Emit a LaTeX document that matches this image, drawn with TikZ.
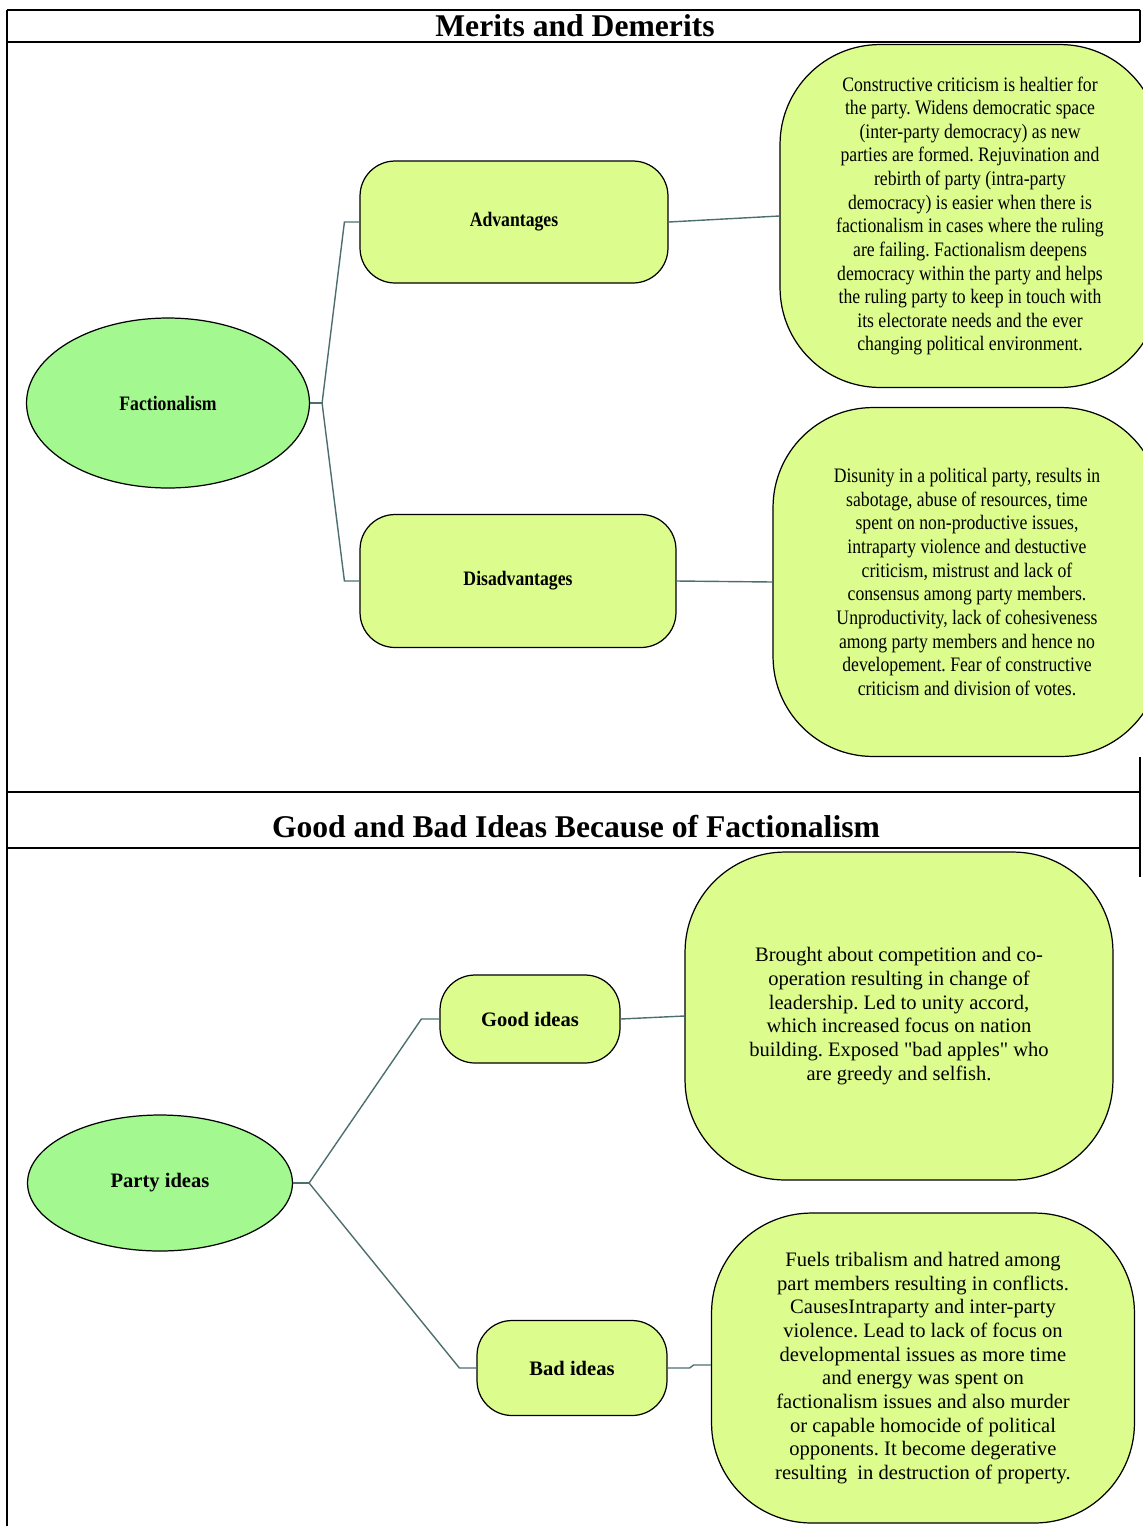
\documentclass[tikz,border=0pt]{standalone}
\usepackage{fontspec}
\setmainfont{Liberation Serif}
\newfontfamily\narrowserif[FakeStretch=0.86]{Liberation Serif}
\usepackage{xcolor}
\usetikzlibrary{shapes.geometric}

\definecolor{rootgreen}{HTML}{A3F88F}
\definecolor{leafyellow}{HTML}{DDFC8E}
\definecolor{linkgrey}{HTML}{4E6E6E}
\newcommand{\mapsize}{\fontsize{11.7}{13.45}\selectfont}
\frenchspacing

\begin{document}
\begin{tikzpicture}[x=0.02cm, y=-0.02cm,
    root/.style={draw, ellipse, fill=rootgreen, line width=0.7pt, inner sep=0pt, font=\mapsize\bfseries},
    branch/.style={draw, rounded corners=0.7cm, fill=leafyellow, line width=0.7pt, inner sep=0pt, font=\mapsize\bfseries},
    bubble/.style={draw, rounded corners=2cm, fill=leafyellow, line width=0.7pt, inner sep=0pt, font=\mapsize, align=center},
    narrow/.style={execute at begin node=\narrowserif},
    heading/.style={font=\fontsize{18}{21}\selectfont\bfseries},
    link/.style={draw=linkgrey, line width=0.8pt},
    frame/.style={line width=1.1pt}
]
    \useasboundingbox (0,0) rectangle (1143,1526);

    % Table frame
    \draw[frame] (7,10) -- (1140,10);
    \draw[frame] (7,42) -- (1140,42);
    \draw[frame] (7,792) -- (1140,792);
    \draw[frame] (7,848) -- (1140,848);
    \draw[frame] (7,10) -- (7,1526);
    \draw[frame] (1140,10) -- (1140,42);
    \draw[frame] (1140,757) -- (1140,877);

    % Headings
    \node[heading] (head1) at (575,26) {Merits and Demerits};
    \node[heading] (head2) at (576,827) {Good and Bad Ideas Because of Factionalism};

    % Factionalism map
    \node[root, narrow, minimum width=5.66cm, minimum height=3.4cm] (fac) at (168,403) {Factionalism};
    \node[branch, narrow, minimum width=6.16cm, minimum height=2.44cm] (adv) at (514,222) {Advantages};
    \node[branch, narrow, minimum width=6.32cm, minimum height=2.66cm] (dis) at (518,581) {Disadvantages};
    \node[bubble, narrow, minimum width=7.6cm, minimum height=6.86cm] (advnote) at (970,216) {Constructive criticism is healtier for\\the party. Widens democratic space\\(inter-party democracy) as new\\parties are formed. Rejuvination and\\rebirth of party (intra-party\\democracy) is easier when there is\\factionalism in cases where the ruling\\are failing. Factionalism deepens\\democracy within the party and helps\\the ruling party to keep in touch with\\its electorate needs and the ever\\changing political environment.};
    \node[bubble, narrow, minimum width=7.76cm, minimum height=6.98cm] (disnote) at (967,582) {Disunity in a political party, results in\\sabotage, abuse of resources, time\\spent on non-productive issues,\\intraparty violence and destuctive\\criticism, mistrust and lack of\\consensus among party members.\\Unproductivity, lack of cohesiveness\\among party members and hence no\\developement. Fear of constructive\\criticism and division of votes.};

    \draw[link] (fac.east) -- ++(12,0) coordinate (facfork);
    \draw[link] (facfork) -- ([xshift=-0.3cm]adv.west) -- (adv.west);
    \draw[link] (facfork) -- ([xshift=-0.3cm]dis.west) -- (dis.west);
    \draw[link] (adv.east) -- (advnote.west);
    \draw[link] (dis.east) -- (disnote.west);

    % Party ideas map
    \node[root, minimum width=5.3cm, minimum height=2.72cm] (party) at (160,1183) {Party ideas};
    \node[branch, minimum width=3.6cm, minimum height=1.76cm] (good) at (530,1019) {Good ideas};
    \node[branch, minimum width=3.8cm, minimum height=1.9cm] (bad) at (572,1368) {Bad ideas};
    \node[bubble, minimum width=8.56cm, minimum height=6.56cm] (goodnote) at (899,1016) {Brought about competition and co-\\operation resulting in change of\\leadership. Led to unity accord,\\which increased focus on nation\\building. Exposed \textquotedbl bad apples\textquotedbl{} who\\are greedy and selfish.};
    \node[bubble, minimum width=8.46cm, minimum height=6.2cm] (badnote) at (923,1368) {Fuels tribalism and hatred among\\part members resulting in conflicts.\\CausesIntraparty and inter-party\\violence. Lead to lack of focus on\\developmental issues as more time\\and energy was spent on\\factionalism issues and also murder\\or capable homocide of political\\opponents. It become degerative\\resulting\ \ in destruction of property.};

    \draw[link] (party.east) -- ++(16,0) coordinate (partyfork);
    \draw[link] (partyfork) -- ([xshift=-0.36cm]good.west) -- (good.west);
    \draw[link] (partyfork) -- ([xshift=-0.34cm]bad.west) -- (bad.west);
    \draw[link] (good.east) -- (goodnote.west);
    \draw[link] (bad.east) -- ++(22,0) -- ++(4,-3) -- ([yshift=0.06cm]badnote.west);
\end{tikzpicture}
\end{document}
